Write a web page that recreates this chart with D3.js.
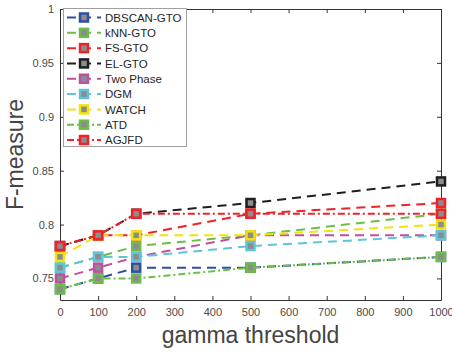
<!DOCTYPE html>
<html>
<head>
<meta charset="utf-8">
<script src="https://cdn.jsdelivr.net/npm/d3@7"></script>
<style>
  body { margin: 0; background: #fff; }
  svg { font-family: "Liberation Sans", Arial, sans-serif; }
</style>
</head>
<body>
<div id="main"></div>
<script>
const w = 452;
const h = 354;

// gamma threshold values (x) and tick labels
const thresholds = [0, 100, 200, 500, 1000];
const xTicks = [0, 100, 200, 300, 400, 500, 600, 700, 800, 900, 1000];
const yTicks = [0.75, 0.8, 0.85, 0.9, 0.95, 1];

// series names, in legend order
const names = ["DBSCAN-GTO", "kNN-GTO", "FS-GTO", "EL-GTO", "Two Phase", "DGM", "WATCH", "ATD", "AGJFD"];

// F-measure values
const dbscanGto = [0.74, 0.75, 0.76, 0.76, 0.77];
const knnGto    = [0.76, 0.77, 0.78, 0.79, 0.81];
const fsGto     = [0.78, 0.79, 0.79, 0.81, 0.82];
const elGto     = [0.78, 0.79, 0.81, 0.82, 0.84];
const twoPhase  = [0.75, 0.76, 0.77, 0.79, 0.79];
const dgm       = [0.76, 0.77, 0.77, 0.78, 0.79];
const watch     = [0.77, 0.79, 0.79, 0.79, 0.80];
const atd       = [0.74, 0.75, 0.75, 0.76, 0.77];
const agjfd     = [0.78, 0.79, 0.81, 0.81, 0.81];

const values = [dbscanGto, knnGto, fsGto, elGto, twoPhase, dgm, watch, atd, agjfd];

const colors = ["#2f4ea2", "#6cbf46", "#ee2228", "#1e1e1e", "#bf4fa0", "#5ec5da", "#f4e20c", "#6cbf46", "#ee2228"];
const dashes = ["9,6", "9,6", "9,6", "9,6", "9,6", "9,6", "9,6", "7,3,2,3", "7,3,2,3"];
const markerFill = "#8c8c8c";
const axisColor = "#333";

const svg = d3.select("#main").append("svg").attr("width", w).attr("height", h);

const xScale = d3.scaleLinear().domain([0, 1000]).range([60, 441]);
const yScale = d3.scaleLinear().domain([0.73, 1]).range([300, 9]);

// axes (MATLAB style box, ticks pointing in)
const xAxis = d3.axisBottom(xScale).tickValues(xTicks).tickSizeInner(-4).tickSizeOuter(0)
    .tickPadding(8).tickFormat(d3.format("d"));
const yAxis = d3.axisLeft(yScale).tickValues(yTicks).tickSizeInner(-4).tickSizeOuter(0)
    .tickPadding(6).tickFormat(d => String(d));
const xTop = d3.axisTop(xScale).tickValues(xTicks).tickSizeInner(-4).tickSizeOuter(0).tickFormat("");
const yRight = d3.axisRight(yScale).tickValues(yTicks).tickSizeInner(-4).tickSizeOuter(0).tickFormat("");

function styleAxis(g) {
    g.selectAll("path, line").attr("stroke", axisColor).attr("stroke-width", 1);
    g.selectAll("text").attr("fill", "#4a4a4a").style("font-size", "11px");
}

svg.append("g").attr("transform", "translate(0," + yScale(0.73) + ")").call(xAxis).call(styleAxis);
svg.append("g").attr("transform", "translate(" + xScale(0) + ",0)").call(yAxis).call(styleAxis);
svg.append("g").attr("transform", "translate(0," + yScale(1) + ")").call(xTop).call(styleAxis);
svg.append("g").attr("transform", "translate(" + xScale(1000) + ",0)").call(yRight).call(styleAxis);

// axis titles
svg.append("text")
    .attr("x", (xScale(0) + xScale(1000)) / 2)
    .attr("y", 343)
    .attr("text-anchor", "middle")
    .attr("fill", "#444")
    .style("font-size", "23px")
    .text("gamma threshold");

svg.append("text")
    .attr("transform", "translate(23," + (yScale(0.73) + yScale(1)) / 2 + ") rotate(-90)")
    .attr("text-anchor", "middle")
    .attr("fill", "#444")
    .style("font-size", "23px")
    .text("F-measure");

// series
const line = d3.line()
    .x((d, i) => xScale(thresholds[i]))
    .y(d => yScale(d));

const ms = 8;

values.forEach((vals, k) => {
    const g = svg.append("g");
    g.append("path")
        .attr("d", line(vals))
        .attr("fill", "none")
        .attr("stroke", colors[k])
        .attr("stroke-width", 2)
        .attr("stroke-dasharray", dashes[k]);
    g.selectAll("rect")
        .data(vals)
        .enter()
        .append("rect")
        .attr("x", (d, i) => xScale(thresholds[i]) - ms / 2)
        .attr("y", d => yScale(d) - ms / 2)
        .attr("width", ms)
        .attr("height", ms)
        .attr("fill", markerFill)
        .attr("stroke", colors[k])
        .attr("stroke-width", 2.5);
});

// legend
const legend = svg.append("g");
legend.append("rect")
    .attr("x", 63.5).attr("y", 8.5)
    .attr("width", 123).attr("height", 138)
    .attr("fill", "#fff")
    .attr("stroke", "#a0a0a0")
    .attr("stroke-width", 1);

const rowScale = d3.scaleLinear().domain([0, 8]).range([17.5, 140]);

names.forEach((name, k) => {
    const y = rowScale(k);
    legend.append("line")
        .attr("x1", 67).attr("x2", 101)
        .attr("y1", y).attr("y2", y)
        .attr("stroke", colors[k])
        .attr("stroke-width", 2)
        .attr("stroke-dasharray", dashes[k]);
    legend.append("rect")
        .attr("x", 84 - ms / 2).attr("y", y - ms / 2)
        .attr("width", ms).attr("height", ms)
        .attr("fill", markerFill)
        .attr("stroke", colors[k])
        .attr("stroke-width", 2.5);
    legend.append("text")
        .attr("x", 105).attr("y", y)
        .attr("dy", "0.36em")
        .attr("fill", "#262626")
        .style("font-size", "11.5px")
        .text(name);
});
</script>
</body>
</html>
